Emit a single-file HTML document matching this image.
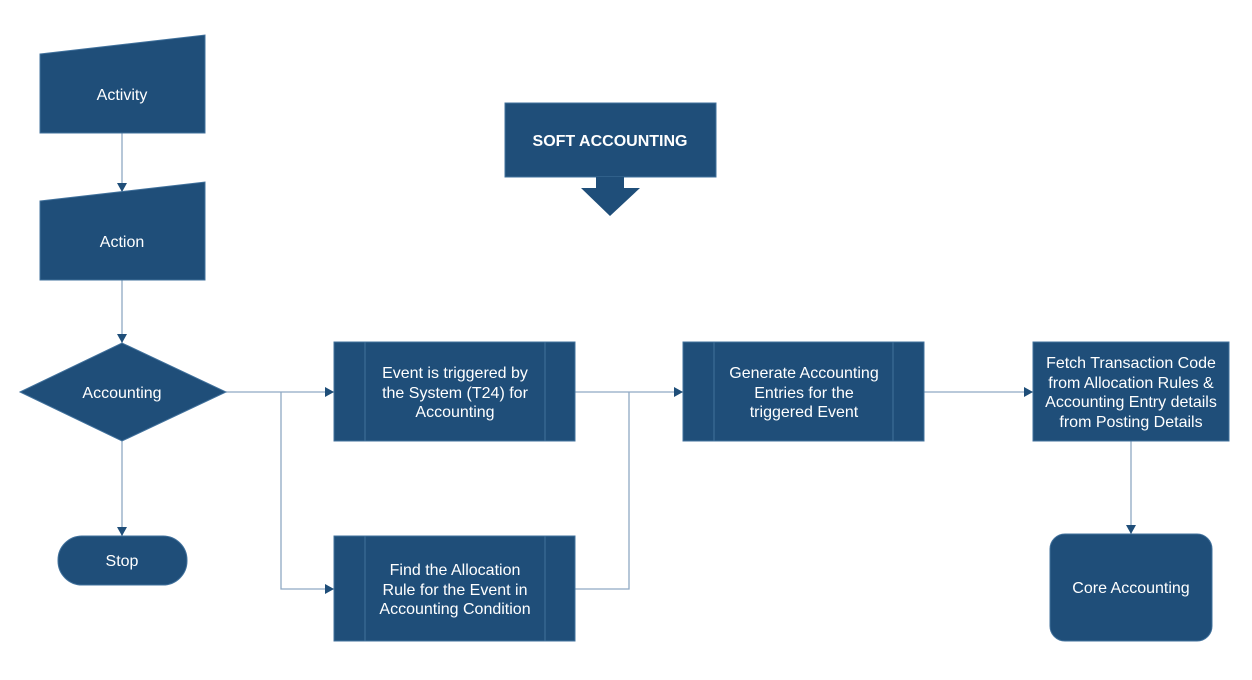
<!DOCTYPE html>
<html><head><meta charset="utf-8"><style>
body{margin:0;background:#fff}
svg text{font-family:"Liberation Sans",Arial,sans-serif;fill:#fff;font-size:16px;text-anchor:middle}
</style></head><body>
<svg width="1252" height="675" viewBox="0 0 1252 675" xmlns="http://www.w3.org/2000/svg">
<defs><marker id="a" markerWidth="10" markerHeight="10" refX="9" refY="5" orient="auto" markerUnits="userSpaceOnUse"><path d="M0,0 L9,5 L0,10 z" fill="#1f4e79"/></marker></defs>
<g stroke="#8fa9c4" stroke-width="1.3" fill="none">
<line x1="122" y1="133" x2="122" y2="192" marker-end="url(#a)"/>
<line x1="122" y1="280" x2="122" y2="343" marker-end="url(#a)"/>
<line x1="122" y1="441" x2="122" y2="536" marker-end="url(#a)"/>
<line x1="226" y1="392" x2="334" y2="392" marker-end="url(#a)"/>
<polyline points="281,392 281,589 334,589" marker-end="url(#a)"/>
<line x1="575" y1="392" x2="683" y2="392" marker-end="url(#a)"/>
<polyline points="575,589 629,589 629,392"/>
<line x1="924" y1="392" x2="1033" y2="392" marker-end="url(#a)"/>
<line x1="1131" y1="441" x2="1131" y2="534" marker-end="url(#a)"/>
</g>
<g fill="#1f4e79" stroke="#41719c" stroke-width="1">
<polygon points="40,54 205,35 205,133 40,133"/>
<polygon points="40,201 205,182 205,280 40,280"/>
<polygon points="20,392 122,343 226,392 122,441"/>
<rect x="58" y="536" width="129" height="49" rx="24"/>
<rect x="505" y="103" width="211" height="74"/>
<polygon points="596,177 624,177 624,188 640,188 610,216 581,188 596,188" stroke="none"/>
<rect x="334" y="342" width="241" height="99"/>
<line x1="365" y1="342" x2="365" y2="441"/><line x1="545" y1="342" x2="545" y2="441"/>
<rect x="334" y="536" width="241" height="105"/>
<line x1="365" y1="536" x2="365" y2="641"/><line x1="545" y1="536" x2="545" y2="641"/>
<rect x="683" y="342" width="241" height="99"/>
<line x1="714" y1="342" x2="714" y2="441"/><line x1="893" y1="342" x2="893" y2="441"/>
<rect x="1033" y="342" width="196" height="99"/>
<rect x="1050" y="534" width="162" height="107" rx="15"/>
</g>
<text x="122" y="100">Activity</text>
<text x="122" y="247">Action</text>
<text x="122" y="398">Accounting</text>
<text x="122" y="566">Stop</text>
<text x="610" y="146" style="font-weight:bold;font-size:16px">SOFT ACCOUNTING</text>
<text x="455" y="378">Event is triggered by</text>
<text x="455" y="398">the System (T24) for</text>
<text x="455" y="417">Accounting</text>
<text x="455" y="575">Find the Allocation</text>
<text x="455" y="595">Rule for the Event in</text>
<text x="455" y="614">Accounting Condition</text>
<text x="804" y="378">Generate Accounting</text>
<text x="804" y="398">Entries for the</text>
<text x="804" y="417">triggered Event</text>
<text x="1131" y="368">Fetch Transaction Code</text>
<text x="1131" y="388">from Allocation Rules  &amp;</text>
<text x="1131" y="407">Accounting Entry details</text>
<text x="1131" y="427">from Posting Details</text>
<text x="1131" y="593">Core Accounting</text>
</svg>
</body></html>
